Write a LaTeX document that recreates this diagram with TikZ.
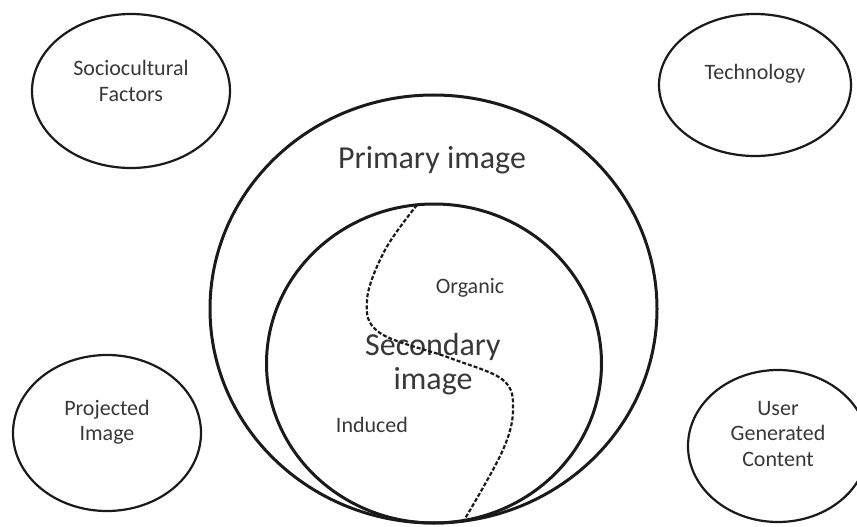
\documentclass[tikz,border=0pt]{standalone}
\usepackage{fontspec}
\setmainfont{Carlito}
\usetikzlibrary{shapes.geometric}
\definecolor{ink}{HTML}{1A1A1A}
\definecolor{txtgray}{HTML}{383838}
\begin{document}
\begin{tikzpicture}[x=1pt,y=-1pt,
  oval/.style={draw=ink, ellipse, line width=2.2pt, inner sep=0pt, outer sep=0pt},
  ring/.style={draw=ink, line width=3pt},
  small/.style={text=txtgray, align=center, font=\fontsize{22}{25.5}\selectfont, inner sep=0pt},
  big/.style={text=txtgray, align=center, font=\fontsize{32}{34}\selectfont, inner sep=0pt},
  divider/.style={draw=ink, line width=2.2pt, dash pattern=on 4pt off 2pt}]
  \useasboundingbox (0,0) rectangle (857,527);

  % outer factors
  \node[oval, minimum width=198pt, minimum height=154pt] (socio) at (131,91) {};
  \node[small] (sociotxt) at (131,81) {Sociocultural\\Factors};

  \node[oval, minimum width=192pt, minimum height=142pt] (tech) at (755,85) {};
  \node[small] (techtxt) at (755,74) {Technology};

  \node[oval, minimum width=188pt, minimum height=156pt] (proj) at (107,433) {};
  \node[small] (projtxt) at (107,422) {Projected\\Image};

  \node[oval, minimum width=180pt, minimum height=152pt] (ugc) at (778,446) {};
  \node[small] (ugctxt) at (778,434) {User\\Generated\\Content};

  % primary and secondary image
  \draw[ring] (433.5,309) ellipse [x radius=223.5, y radius=214];
  \draw[ring] (434,363.5) ellipse [x radius=167.5, y radius=159.5];
  \node[big] (primary) at (432,160) {Primary image};
  \node[big] (secondary) at (433,364) {Secondary\\image};
  \node[small] (organic) at (470,288) {Organic};
  \node[small] (induced) at (372,425) {Induced};

  % organic / induced boundary
  \draw[divider] plot[smooth, tension=0.6] coordinates {
    (417,205) (385,250) (367,300) (380,333) (450,358) (503,380)
    (513,410) (502,452) (463,522)};
\end{tikzpicture}
\end{document}
